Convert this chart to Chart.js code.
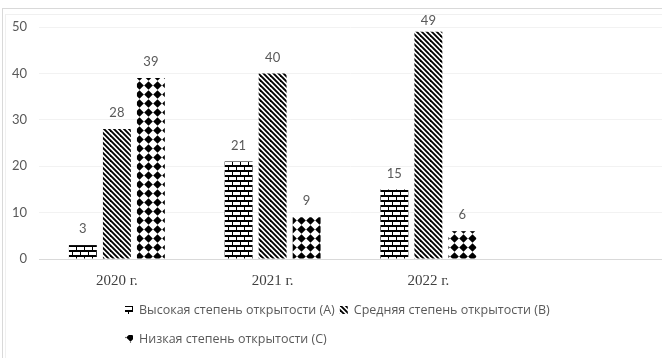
<!DOCTYPE html>
<html lang="ru">
<head>
<meta charset="UTF-8">
<title>Степень открытости</title>
<script src="https://cdn.jsdelivr.net/npm/chart.js"></script>
<style>
    html, body { margin: 0; padding: 0; background: #fff; }
    #wrap { position: relative; width: 662px; height: 358px; overflow: hidden; }
    .frame { position: absolute; width: 800px; height: 500px; }
    #frameOuter { left: 2px; top: 8px; border-left: 1px solid #d9d9d9; border-top: 1px solid #d9d9d9; }
    #frameInner { left: 5px; top: 14px; border-left: 1px solid #f0f0f0; border-top: 1px solid #f0f0f0; }
    canvas { position: absolute; left: 0; top: 0; }
</style>
</head>
<body>
<div id="wrap">
    <div class="frame" id="frameOuter"></div>
    <div class="frame" id="frameInner"></div>
    <canvas id="chart" width="662" height="358"></canvas>
</div>
<script>
// данные
const years = ['2020 г.', '2021 г.', '2022 г.', ''];
const seriesNames = ['Высокая степень открытости (А)', 'Средняя степень открытости (В)', 'Низкая степень открытости (С)'];
const highValues = [3, 21, 15];
const midValues = [28, 40, 49];
const lowValues = [39, 9, 6];
const yMin = 0, yMax = 50, yStep = 10;

const numFont = 'Lato, "Open Sans", sans-serif';
const legendFont = '"Open Sans", "Noto Sans", sans-serif';

// узоры заливки
function makeTile(w, h, draw) {
    const c = document.createElement('canvas');
    c.width = w; c.height = h;
    const g = c.getContext('2d');
    g.fillStyle = '#fff';
    g.fillRect(0, 0, w, h);
    g.fillStyle = '#000';
    g.strokeStyle = '#000';
    draw(g);
    return c;
}

const ctx = document.getElementById('chart').getContext('2d');

const brick = ctx.createPattern(makeTile(8, 10, g => {
    g.fillRect(0, 0, 8, 2);
    g.fillRect(0, 5, 8, 2);
    g.fillRect(0, 2, 1, 3);
    g.fillRect(4, 7, 1, 3);
}), 'repeat');

const stripes = ctx.createPattern(makeTile(10, 10, g => {
    g.lineWidth = 1.9;
    for (let c = -20; c <= 20; c += 5) {
        g.beginPath();
        g.moveTo(c - 2, -2);
        g.lineTo(c + 12, 12);
        g.stroke();
    }
}), 'repeat');

const diamonds = ctx.createPattern(makeTile(9, 9, g => {
    g.beginPath();
    g.moveTo(4.5, 0.2);
    g.lineTo(8.8, 4.5);
    g.lineTo(4.5, 8.8);
    g.lineTo(0.2, 4.5);
    g.closePath();
    g.fill();
}), 'repeat');

// подписи значений над столбцами
const valueLabels = {
    id: 'valueLabels',
    afterDatasetsDraw(chart) {
        const c = chart.ctx;
        c.save();
        c.font = '13px ' + numFont;
        c.fillStyle = '#595959';
        c.textAlign = 'center';
        c.textBaseline = 'middle';
        chart.data.datasets.forEach((ds, i) => {
            chart.getDatasetMeta(i).data.forEach((bar, j) => {
                c.fillText(String(ds.data[j]), bar.x, Math.max(bar.y - 16, 21));
            });
        });
        c.restore();
    }
};

// легенда в две строки, выровненная влево
const seriesLegend = {
    id: 'seriesLegend',
    afterDraw(chart) {
        const c = chart.ctx;
        const left = 125, rowWidth = 430, rowGap = 29, box = 8;
        let x = left, y = 310;
        c.save();
        c.font = '12.5px ' + legendFont;
        c.textAlign = 'left';
        c.textBaseline = 'middle';
        chart.data.datasets.forEach(ds => {
            const w = box + 6 + c.measureText(ds.label).width;
            if (x > left && x + w > left + rowWidth) {
                x = left;
                y += rowGap;
            }
            c.fillStyle = ds.backgroundColor;
            c.fillRect(x, y - box / 2, box, box);
            c.fillStyle = '#595959';
            c.fillText(ds.label, x + box + 6, y);
            x += w + 5;
        });
        c.restore();
    }
};

function draw() {
    new Chart(ctx, {
        type: 'bar',
        data: {
            labels: years,
            datasets: [
                { label: seriesNames[0], data: highValues, backgroundColor: brick },
                { label: seriesNames[1], data: midValues, backgroundColor: stripes },
                { label: seriesNames[2], data: lowValues, backgroundColor: diamonds }
            ]
        },
        options: {
            responsive: false,
            animation: false,
            layout: { padding: { top: 27, left: 0, right: 0, bottom: 0 } },
            datasets: { bar: { categoryPercentage: 0.655, barPercentage: 0.82 } },
            plugins: {
                legend: { display: false },
                tooltip: { enabled: false }
            },
            scales: {
                x: {
                    grid: { display: false },
                    border: { display: true, color: '#d9d9d9' },
                    ticks: {
                        color: '#404040',
                        padding: 5,
                        font: { family: '"Liberation Serif", "Times New Roman", serif', size: 15 }
                    },
                    afterFit: s => { s.height = 99; }
                },
                y: {
                    min: yMin,
                    max: yMax,
                    grid: { color: '#f2f2f2', drawTicks: false },
                    border: { display: false },
                    ticks: {
                        stepSize: yStep,
                        padding: 12,
                        color: '#595959',
                        font: { family: numFont, size: 13 }
                    },
                    afterFit: s => { s.width = 39; }
                }
            }
        },
        plugins: [valueLabels, seriesLegend]
    });
}

Promise.all([
    document.fonts.load('13px Lato'),
    document.fonts.load('12.5px "Open Sans"'),
    document.fonts.load('15px "Liberation Serif"')
]).then(draw, draw);
</script>
</body>
</html>
